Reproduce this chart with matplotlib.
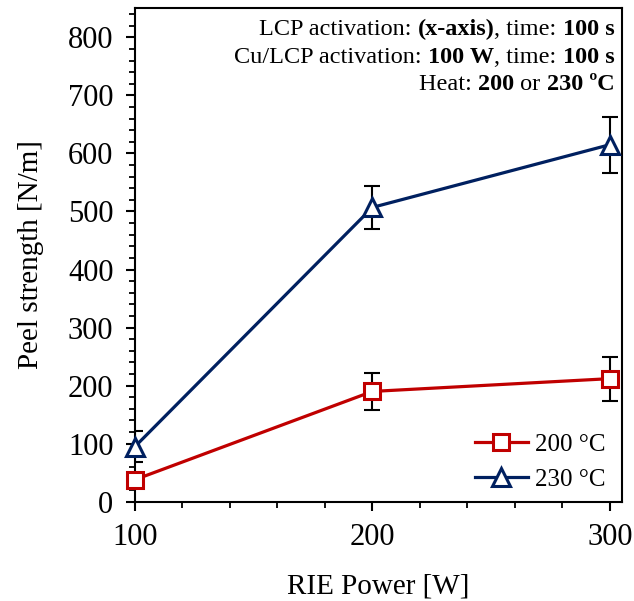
import matplotlib
matplotlib.use('Agg')
import matplotlib.pyplot as plt
from matplotlib.ticker import MultipleLocator

plt.rcParams['font.family'] = ['Liberation Serif', 'DejaVu Serif']

# data
power = [100, 200, 300]
peel_200 = [38, 190, 212]
err_200 = [0, 32, 38]
peel_230 = [95, 507, 615]
err_230 = [26, 37, 48]

red = '#C00000'
navy = '#002060'

fig = plt.figure(figsize=(6.34, 6.01), dpi=100)
ax = fig.add_axes([0.2129, 0.1652, 0.9806 - 0.2129, 0.9862 - 0.1652])

ax.errorbar(power, peel_200, yerr=err_200, fmt='none', ecolor='black',
            elinewidth=1.5, capsize=6, capthick=1.5, zorder=2)
ax.errorbar(power, peel_230, yerr=err_230, fmt='none', ecolor='black',
            elinewidth=1.5, capsize=6, capthick=1.5, zorder=2)
ax.plot(power, peel_200, color=red, lw=2.3, marker='s', ms=12, mfc='white',
        mec=red, mew=2.2, label='200 °C', zorder=3, clip_on=False)
ax.plot(power, peel_230, color=navy, lw=2.3, marker='^', ms=13, mfc='white',
        mec=navy, mew=2.2, label='230 °C', zorder=3, clip_on=False)

ax.set_xlim(100, 305)
ax.set_ylim(0, 850)
ax.xaxis.set_major_locator(MultipleLocator(100))
ax.xaxis.set_minor_locator(MultipleLocator(20))
ax.yaxis.set_major_locator(MultipleLocator(100))
ax.yaxis.set_minor_locator(MultipleLocator(20))
ax.tick_params(which='major', direction='out', length=6.5, width=1.5,
               labelsize=22, pad=9)
ax.tick_params(which='minor', direction='out', length=4.3, width=1.3)
for s in ax.spines.values():
    s.set_linewidth(1.5)

ax.set_xlabel('RIE Power [W]', fontsize=21, labelpad=15)
ax.set_ylabel('Peel strength [N/m]', fontsize=21, labelpad=17)

leg = ax.legend(loc='lower right', bbox_to_anchor=(1.012, -0.023), frameon=False,
                fontsize=18, handlelength=2.1, handletextpad=0.28,
                labelspacing=0.5)

# annotation with mixed bold, built right to left
lines = [
    [('LCP activation: ', 'normal'), ('(x-axis)', 'bold'), (', time: ', 'normal'), ('100 s', 'bold')],
    [('Cu/LCP activation: ', 'normal'), ('100 W', 'bold'), (', time: ', 'normal'), ('100 s', 'bold')],
    [('Heat: ', 'normal'), ('200', 'bold'), (' or ', 'normal'), ('230 ºC', 'bold')],
]
y_line = [0.958, 0.901, 0.846]
for pieces, yy in zip(lines, y_line):
    txt, wt = pieces[-1]
    prev = ax.text(0.985, yy, txt, transform=ax.transAxes, ha='right',
                   va='center', fontsize=17.5, fontweight=wt)
    for txt, wt in reversed(pieces[:-1]):
        prev = ax.annotate(txt, xy=(0, 0.5), xycoords=prev, ha='right',
                           va='center', fontsize=17.5, fontweight=wt)

fig.savefig('out.png', dpi=100)
